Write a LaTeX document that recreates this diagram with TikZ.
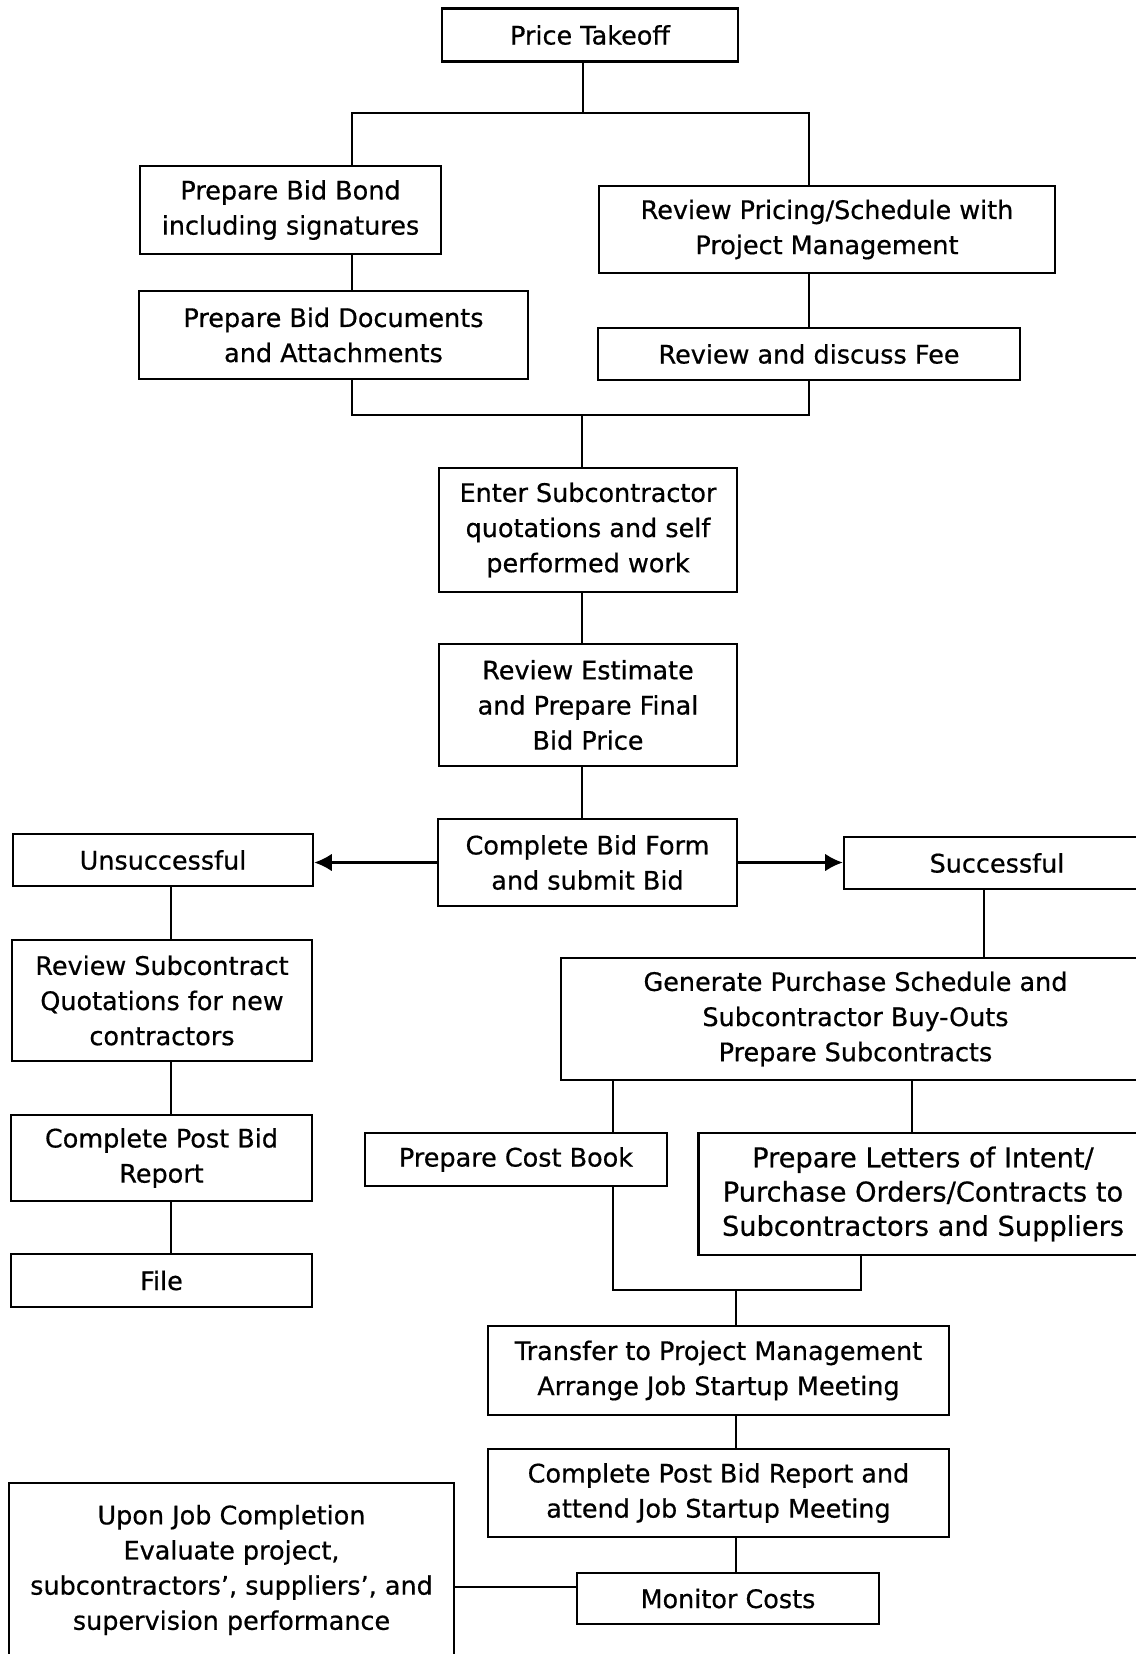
\documentclass[tikz,border=0pt]{standalone}
\usepackage{fontspec}
\setmainfont{DejaVu Sans}[FakeBold=0.6]
\usepackage{tikz}
\usetikzlibrary{arrows.meta}

\tikzset{
  box/.style={draw, line width=1.4pt, align=center, inner sep=0pt,
    font=\fontsize{14.5}{20}\selectfont},
  link/.style={line width=1.4pt},
  flow/.style={line width=1.4pt, -{Latex[length=10pt,width=10pt]}}
}

\begin{document}
\begin{tikzpicture}[x=0.02cm,y=-0.02cm]
    \useasboundingbox (0,0) rectangle (1136,1654);

    % Bid preparation
    \node[box, minimum width=5.92cm, minimum height=1.06cm] (price) at (590,35) {Price Takeoff};
    \node[box, minimum width=6.02cm, minimum height=1.76cm] (bond) at (290.5,210) {Prepare Bid Bond\\including signatures};
    \node[box, minimum width=9.12cm, minimum height=1.74cm] (review) at (827,229.5) {Review Pricing/Schedule with\\Project Management};
    \node[box, minimum width=7.78cm, minimum height=1.76cm] (docs) at (333.5,335) {Prepare Bid Documents\\and Attachments};
    \node[box, minimum width=8.44cm, minimum height=1.04cm] (fee) at (809,354) {Review and discuss Fee};
    \node[box, minimum width=5.96cm, minimum height=2.48cm] (enter) at (588,530) {Enter Subcontractor\\quotations and self\\performed work};
    \node[box, minimum width=5.96cm, minimum height=2.44cm] (estimate) at (588,705) {Review Estimate\\and Prepare Final\\Bid Price};
    \node[box, minimum width=5.98cm, minimum height=1.74cm] (bidform) at (587.5,862.5) {Complete Bid Form\\and submit Bid};

    % Unsuccessful branch
    \node[box, minimum width=6.00cm, minimum height=1.04cm] (unsucc) at (163,860) {Unsuccessful};
    \node[box, minimum width=6.00cm, minimum height=2.42cm] (quotes) at (162,1000.5) {Review Subcontract\\Quotations for new\\contractors};
    \node[box, minimum width=6.02cm, minimum height=1.72cm] (postbid) at (161.5,1158) {Complete Post Bid\\Report};
    \node[box, minimum width=6.02cm, minimum height=1.06cm] (file) at (161.5,1280.5) {File};

    % Successful branch
    \node[box, minimum width=6.12cm, minimum height=1.04cm] (succ) at (997,863) {Successful};
    \node[box, minimum width=11.78cm, minimum height=2.44cm] (generate) at (855.5,1019) {Generate Purchase Schedule and\\Subcontractor Buy-Outs\\Prepare Subcontracts};
    \node[box, minimum width=6.04cm, minimum height=1.06cm] (costbook) at (516,1159.5) {Prepare Cost Book};
    \node[box, minimum width=8.98cm, minimum height=2.44cm, font=\fontsize{15.5}{19.5}\selectfont] (letters) at (923,1194) {Prepare Letters of Intent/\\Purchase Orders/Contracts to\\Subcontractors and Suppliers};
    \node[box, minimum width=9.22cm, minimum height=1.78cm] (transfer) at (718.5,1370.5) {Transfer to Project Management\\Arrange Job Startup Meeting};
    \node[box, minimum width=9.22cm, minimum height=1.76cm] (attend) at (718.5,1493) {Complete Post Bid Report and\\attend Job Startup Meeting};
    \node[box, minimum width=6.04cm, minimum height=1.02cm] (monitor) at (728,1598.5) {Monitor Costs};
    \node[box, minimum width=8.90cm, minimum height=3.48cm] (upon) at (231.5,1570) {Upon Job Completion\\Evaluate project,\\subcontractors’, suppliers’, and\\supervision performance};

    % Junctions
    \coordinate (jA) at (583,113);
    \coordinate (jAl) at (352,113);
    \coordinate (jAr) at (809,113);
    \coordinate (jB) at (582,415);
    \coordinate (jBl) at (352,415);
    \coordinate (jBr) at (809,415);
    \coordinate (jC) at (736,1290);
    \coordinate (jCl) at (613,1290);
    \coordinate (jCr) at (861,1290);
    \coordinate (colL) at (171,0);
    \coordinate (colS) at (984,0);
    \coordinate (colG) at (912,0);
    \coordinate (rowM) at (0,1587);

    % Split after takeoff
    \draw[link] (price.south -| jA) -- (jA);
    \draw[link] (bond.north -| jAl) |- (jAr) -- (review.north -| jAr);
    \draw[link] (bond.south -| jAl) -- (docs.north -| jAl);
    \draw[link] (review.south -| jAr) -- (fee.north -| jAr);

    % Merge into estimate
    \draw[link] (docs.south -| jBl) |- (jBr) -- (fee.south -| jBr);
    \draw[link] (jB) -- (enter.north -| jB);
    \draw[link] (enter.south -| jB) -- (estimate.north -| jB);
    \draw[link] (estimate.south -| jB) -- (bidform.north -| jB);

    % Outcome arrows
    \draw[flow] (bidform.west) -- (bidform.west -| unsucc.east);
    \draw[flow] (bidform.east) -- (bidform.east -| succ.west);

    % Unsuccessful chain
    \draw[link] (unsucc.south -| colL) -- (quotes.north -| colL);
    \draw[link] (quotes.south -| colL) -- (postbid.north -| colL);
    \draw[link] (postbid.south -| colL) -- (file.north -| colL);

    % Successful chain
    \draw[link] (succ.south -| colS) -- (generate.north -| colS);
    \draw[link] (generate.south -| jCl) -- (costbook.north -| jCl);
    \draw[link] (generate.south -| colG) -- (letters.north -| colG);
    \draw[link] (costbook.south -| jCl) |- (jCr) -- (letters.south -| jCr);
    \draw[link] (jC) -- (transfer.north -| jC);
    \draw[link] (transfer.south -| jC) -- (attend.north -| jC);
    \draw[link] (attend.south -| jC) -- (monitor.north -| jC);
    \draw[link] (upon.east |- rowM) -- (monitor.west |- rowM);

\end{tikzpicture}
\end{document}
